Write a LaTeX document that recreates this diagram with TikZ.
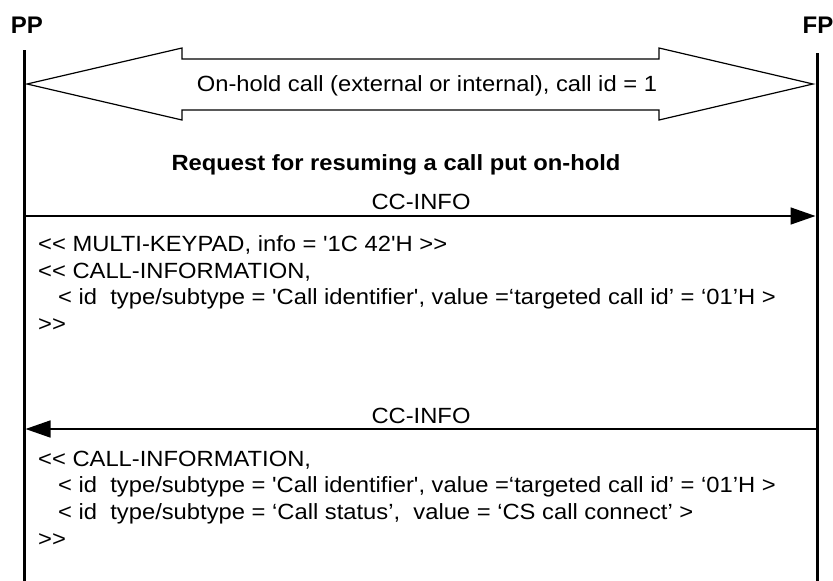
\documentclass[tikz,border=0pt]{standalone}
\usepackage{fontspec}
\setmainfont{Liberation Sans}
\usetikzlibrary{arrows.meta}

\newcommand{\wide}[1]{\scalebox{1.08}[1]{#1}}
\newcommand{\opn}{<\kern0pt<}
\newcommand{\cls}{>\kern0pt>}

\tikzset{
  lifeline/.style={line width=3pt},
  msg/.style={line width=1.6pt, -{Triangle[length=25pt,width=17pt]}},
  entity/.style={inner sep=0pt, font=\fontsize{24}{24}\selectfont\bfseries},
  body/.style={inner sep=0pt, anchor=base west, font=\fontsize{22}{22}\selectfont},
  label/.style={inner sep=0pt, anchor=base, font=\fontsize{22}{22}\selectfont}
}

\begin{document}
\begin{tikzpicture}[x=1pt, y=-1pt]
    \useasboundingbox (0,0) rectangle (833,581);

    % Draw the two entities and their lifelines
    \node[entity] (pp) at (27, 25) {PP};
    \node[entity] (fp) at (818, 25) {FP};
    \coordinate (pptop) at (24, 50);
    \coordinate (ppbot) at (24, 581);
    \coordinate (fptop) at (817, 53);
    \coordinate (fpbot) at (817, 581);
    \draw[lifeline] (pptop) -- (ppbot);
    \draw[lifeline] (fptop) -- (fpbot);

    % Draw the on-hold call as a double arrow
    \draw[line width=1.2pt] (27, 84) -- (182, 48) -- (182, 59) -- (659, 59) -- (659, 48)
        -- (813, 84) -- (659, 120) -- (659, 110) -- (182, 110) -- (182, 120) -- cycle;
    \node[label] (hold) at (427, 91) {\wide{On-hold call (external or internal), call id = 1}};

    \node[label, font=\fontsize{22}{22}\selectfont\bfseries] (request) at (396, 170)
        {\wide{Request for resuming a call put on-hold}};

    % First CC-INFO, from PP to FP
    \coordinate (ppa) at (24, 216);
    \coordinate (fpa) at (817, 216);
    \draw[msg, shorten >=1.5pt] (ppa) -- (fpa);
    \node[label] (infoa) at (421, 209) {\wide{CC-INFO}};

    \node[body] (keypad) at (38, 251) {\wide{\opn{} MULTI-KEYPAD, info = \textquotesingle 1C 42\textquotesingle H \cls}};
    \node[body] (calla) at (38, 278) {\wide{\opn{} CALL-INFORMATION,}};
    \node[body] (ida) at (58, 304) {\wide{< id~~type/subtype = \textquotesingle Call identifier\textquotesingle, value =`targeted call id' = `01'H >}};
    \node[body] (enda) at (38, 331) {\wide{\cls}};

    % Second CC-INFO, from FP back to PP
    \coordinate (ppb) at (24, 429);
    \coordinate (fpb) at (817, 429);
    \draw[msg, shorten >=1.5pt] (fpb) -- (ppb);
    \node[label] (infob) at (421, 423) {\wide{CC-INFO}};

    \node[body] (callb) at (38, 466) {\wide{\opn{} CALL-INFORMATION,}};
    \node[body] (idb) at (58, 492) {\wide{< id~~type/subtype = \textquotesingle Call identifier\textquotesingle, value =`targeted call id' = `01'H >}};
    \node[body] (status) at (58, 519) {\wide{< id~~type/subtype = `Call status',~~value = `CS call connect' >}};
    \node[body] (endb) at (38, 546) {\wide{\cls}};
\end{tikzpicture}
\end{document}
